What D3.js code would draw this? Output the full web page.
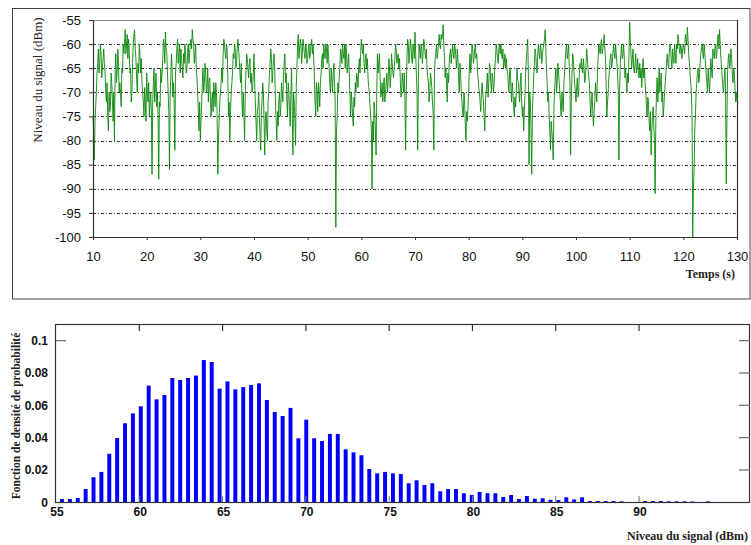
<!DOCTYPE html>
<html><head><meta charset="utf-8">
<script src="https://cdn.jsdelivr.net/npm/d3@7"></script>
<style>body{margin:0;background:#fff}svg{display:block}</style>
</head><body>
<script>
// ---- Top chart: signal level vs time ----
// main samples every 0.25 s from 10 s to 130 s
const timeStart = 10, timeStep = 0.25;
const signalLevel = [
-75,-84,-73,-66, -61,-64,-62,-65, -61,-66,-72,-75, -70,-73,-68,-76, -80,-62,-66,-64,
-68,-73,-66,-62, -57,-60,-63,-61, -65,-70,-60,-57, -63,-70,-66,-62, -63,-70,-75,-72,
-66,-72,-75,-70, -87,-68,-72,-66, -70,-88,-73,-68, -63,-60,-57.5,-62, -70,-86,-67,-65,
-68,-82,-64,-59, -62,-66,-63,-67, -64,-62,-65,-60, -62,-59,-57,-60, -62,-65,-70,-78,
-80,-72,-65,-68, -66,-69,-72,-67, -75,-70,-68,-73, -70,-87,-76,-70, -65,-62,-60,-63,
-61,-75,-80,-70, -66,-63,-61,-64, -59,-63,-68,-72, -70,-80,-66,-63, -67,-63,-66,-69,
-62,-72,-80,-73, -75,-82,-72,-70, -83,-74,-80,-70, -64,-63,-66,-62, -72,-80,-77,-70,
-73,-70,-66,-62, -66,-75,-70,-77, -65,-83,-72,-81, -65,-58,-61,-60, -62,-60,-63,-61,
-63,-60,-62,-59, -60,-67,-75,-70, -68,-73,-66,-62, -60,-63,-61,-60, -65,-70,-67,-66,
-68,-98,-75,-70, -65,-62,-60,-63, -65,-62,-64,-66, -75,-72,-77,-73, -70,-67,-65,-66,
-59,-62,-64,-63, -65,-67,-70,-75, -90,-80,-74,-83, -62,-64,-67,-70, -72,-67,-70,-66,
-68,-65,-67,-64, -67,-63,-61,-63, -65,-67,-70,-68, -66,-82,-63,-60, -62,-60,-64,-61,
-57.5,-66,-82,-60, -63,-61,-62,-60, -63,-65,-68,-70, -67,-72,-82,-63, -60,-62,-58,-61,
-59,-56,-63,-65, -72,-68,-62,-64, -60,-63,-61,-65, -63,-70,-66,-72, -75,-72,-80,-76,
-70,-62,-64,-61, -63,-60,-62,-67, -70,-74,-68,-72, -78,-70,-66,-68, -65,-70,-67,-68,
-63,-61,-64,-60, -60,-63,-65,-62, -63,-66,-70,-65, -72,-70,-75,-73, -65,-68,-72,-66,
-75,-78,-70,-63, -59,-85,-72,-87, -70,-64,-62,-66, -60,-63,-61,-62, -60,-57,-65,-72,
-75,-82,-78,-84, -70,-65,-68,-66, -70,-75,-72,-68, -63,-60,-62,-65, -83,-66,-63,-68,
-72,-67,-70,-64, -63,-66,-65,-67, -61,-65,-68,-75, -70,-77,-72,-70, -66,-60,-62,-59,
-61,-58,-63,-75, -70,-65,-62,-64, -60,-63,-62,-66, -84,-64,-60,-62, -63,-65,-70,-68,
-55.5,-62,-63,-65, -64,-66,-63,-67, -67,-69,-63,-65, -70,-75,-72,-78, -83,-75,-77,-91,
-70,-72,-65,-68, -72,-75,-70,-66, -62,-65,-60,-63, -61,-64,-62,-60, -58,-61,-60,-63,
-60,-62,-59,-56.5, -62,-66,-70,-100, -86,-75,-68,-65, -67,-62,-60,-63, -62,-66,-70,-68,
-67,-65,-61,-63, -60,-62,-58,-57, -63,-67,-70,-65, -89,-66,-62,-64, -63,-68,-66,-72,
-72
];
// intermediate readings, one 0.125 s after each main sample
const signalLevelMid = [
-78,-76,-70,-64, -66,-60,-67,-63, -64,-70,-68,-78, -74,-66,-72,-70, -66,-68,-61,-70,
-70,-65,-60,-60, -62,-58,-59,-66, -72,-64,-58,-61, -67,-64,-60,-66, -68,-72,-69,-76,
-70,-68,-72,-74, -72,-65,-69,-73, -75,-72,-65,-66, -59,-64,-61,-66, -74,-70,-62,-71,
-72,-66,-61,-64, -60,-61,-65,-62, -60,-66,-62,-64, -60,-61,-59,-64, -60,-67,-74,-72,
-76,-68,-70,-64, -70,-65,-68,-71, -72,-74,-70,-68, -74,-80,-72,-68, -68,-59,-62,-60,
-67,-72,-74,-68, -62,-60,-65,-61, -61,-66,-64,-75, -75,-70,-62,-65, -64,-68,-70,-66,
-68,-76,-74,-70, -79,-74,-68,-76, -76,-78,-72,-66, -61,-68,-63,-66, -76,-74,-72,-75,
-68,-72,-64,-68, -72,-68,-74,-70, -74,-70,-76,-69, -60,-63,-59,-64, -59,-62,-60,-64,
-61,-63,-60,-62, -63,-72,-68,-74, -70,-68,-63,-65, -62,-60,-64,-62, -68,-65,-70,-64,
-72,-78,-68,-67, -61,-64,-62,-60, -60,-66,-62,-70, -70,-75,-71,-68, -66,-69,-63,-62,
-61,-60,-66,-62, -63,-69,-73,-78, -76,-72,-78,-70, -66,-62,-71,-68, -69,-72,-68,-70,
-63,-69,-62,-66, -65,-60,-64,-62, -63,-71,-66,-70, -72,-70,-59,-64, -59,-63,-60,-63,
-62,-70,-68,-61, -60,-64,-59,-62, -61,-67,-72,-66, -69,-74,-66,-62, -63,-60,-60,-58,
-58,-60,-67,-68, -66,-64,-61,-62, -62,-60,-63,-61, -67,-64,-70,-74, -70,-77,-74,-73,
-65,-66,-60,-64, -61,-63,-65,-69, -72,-70,-70,-75, -72,-68,-71,-64, -68,-66,-70,-65,
-60,-63,-61,-62, -62,-61,-64,-65, -65,-68,-66,-69, -68,-73,-71,-70, -67,-70,-68,-72,
-73,-74,-66,-61, -66,-70,-78,-74, -67,-61,-65,-62, -62,-60,-64,-61, -59,-61,-68,-70,
-78,-76,-80,-74, -67,-70,-64,-68, -73,-70,-74,-66, -61,-63,-60,-68, -72,-62,-66,-70,
-69,-71,-66,-65, -65,-63,-68,-64, -63,-67,-72,-72, -74,-74,-68,-72, -63,-61,-60,-62,
-60,-61,-69,-72, -67,-63,-65,-62, -62,-60,-64,-70, -70,-62,-63,-60, -67,-68,-66,-62,
-59,-65,-61,-66, -62,-65,-66,-64, -65,-66,-67,-68, -73,-71,-76,-74, -78,-73,-80,-76,
-67,-69,-70,-66, -70,-73,-68,-64, -64,-62,-61,-65, -63,-60,-64,-61, -59,-62,-61,-61,
-61,-58,-60,-59, -64,-68,-75,-90, -78,-70,-66,-68, -64,-61,-62,-60, -64,-68,-65,-70,
-63,-67,-62,-61, -63,-59,-61,-60, -65,-69,-67,-70, -75,-63,-65,-61, -66,-65,-69,-70
];
const timeTicks = [10,20,30,40,50,60,70,80,90,100,110,120,130];
const levelTicks = [-55,-60,-65,-70,-75,-80,-85,-90,-95,-100];
const gridLevels = [-60,-65,-70,-75,-80,-85,-90,-95];

// ---- Bottom chart: probability density ----
const binFirstCenter = 55.36, binWidth = 0.473;
const density = [
0.002,0.002,0.0027,0.0082,0.0155,0.0188,0.030,0.0398,0.0489,0.055,
0.0594,0.0722,0.0637,0.0664,0.0769,0.0757,0.0769,0.0784,0.088,0.0868,
0.0703,0.0748,0.0699,0.0713,0.0726,0.0736,0.0633,0.0559,0.0534,0.0584,
0.0396,0.0511,0.0396,0.0379,0.0423,0.0423,0.0328,0.0309,0.0291,0.0206,
0.0179,0.0188,0.0179,0.0175,0.0118,0.0136,0.0107,0.0118,0.0068,0.0082,
0.0082,0.0056,0.0045,0.0064,0.0056,0.0056,0.0033,0.0045,0.002,0.0039,
0.0022,0.0025,0.0016,0.0014,0.0031,0.0018,0.0031,0.0008,0.0008,0.0008,
0.0008,0.0006,0,0,0.0008,0.0008,0.0008,0.0006,0.0006,0.0006,
0.0005,0,0.0006
];
const levelAxisTicks = [55,60,65,70,75,80,85,90];
const densityTicks = [0,0.02,0.04,0.06,0.08,0.1];
const densityTickLabels = ["0","0.02","0.04","0.06","0.08","0.1"];

// merge main + intermediate readings into one time series
const series = [];
signalLevel.forEach((v, i) => {
  series.push({ t: timeStart + i * timeStep, v: v });
  if (i < signalLevelMid.length) series.push({ t: timeStart + i * timeStep + timeStep / 2, v: signalLevelMid[i] });
});

const W = 751, H = 545;
const svg = d3.select("body").append("svg").attr("width", W).attr("height", H);
svg.append("rect").attr("width", W).attr("height", H).attr("fill", "#fff");

const sans = "'Liberation Sans', Arial, sans-serif";
const serif = "'Liberation Serif', 'Times New Roman', serif";

// ===== TOP =====
svg.append("rect").attr("x", 12.5).attr("y", 8.5).attr("width", 737.5).attr("height", 290.5)
  .attr("fill", "none").attr("stroke", "#444").attr("stroke-width", 1);

const xT = d3.scaleLinear().domain([10, 130]).range([93, 737]);
const yT = d3.scaleLinear().domain([-100, -55]).range([237, 20]);

const gT = svg.append("g");
gT.selectAll("line.grid").data(gridLevels).join("line")
  .attr("x1", xT(10)).attr("x2", xT(130))
  .attr("y1", d => Math.round(yT(d)) + 0.5).attr("y2", d => Math.round(yT(d)) + 0.5)
  .attr("stroke", "#333").attr("stroke-width", 1).attr("stroke-dasharray", "3,2,1,2");

gT.append("line").attr("x1", xT(10)).attr("x2", xT(130)).attr("y1", 20.5).attr("y2", 20.5)
  .attr("stroke", "#888").attr("stroke-width", 1);
gT.append("line").attr("x1", 737.5).attr("x2", 737.5).attr("y1", 20).attr("y2", 237)
  .attr("stroke", "#333").attr("stroke-width", 1.2);

const line = d3.line().x(d => xT(d.t)).y(d => yT(d.v));
gT.append("path").datum(series).attr("d", line)
  .attr("fill", "none").attr("stroke", "#0a870a").attr("stroke-width", 0.9).attr("stroke-linejoin", "bevel");

const axL = gT.append("g").attr("transform", "translate(93,0)")
  .call(d3.axisLeft(yT).tickValues(levelTicks).tickSize(4).tickPadding(8).tickFormat(d => d));
const axB = gT.append("g").attr("transform", "translate(0,237)")
  .call(d3.axisBottom(xT).tickValues(timeTicks).tickSize(3).tickPadding(12));
[axL, axB].forEach(a => {
  a.select(".domain").attr("stroke", "#333").attr("stroke-width", 1.2);
  a.selectAll(".tick line").attr("stroke", "#333");
  a.selectAll("text").attr("font-family", sans).attr("font-size", 13).attr("fill", "#111");
});

svg.append("text").attr("transform", "translate(42,80) rotate(-90)")
  .attr("text-anchor", "middle").attr("font-family", serif).attr("font-size", 13)
  .attr("fill", "#222").text("Niveau du signal (dBm)");
svg.append("text").attr("x", 735).attr("y", 278).attr("text-anchor", "end")
  .attr("font-family", serif).attr("font-size", 12).attr("font-weight", "bold")
  .attr("fill", "#222").text("Temps (s)");

// ===== BOTTOM =====
const xB = d3.scaleLinear().domain([55, 96.66]).range([56, 750]);
const yB = d3.scaleLinear().domain([0, 0.11]).range([502.3, 324.5]);
const gB = svg.append("g");

const barW = xB(55 + binWidth * 0.5) - xB(55);
gB.selectAll("rect.bar").data(density).join("rect")
  .attr("x", (d, i) => xB(binFirstCenter + i * binWidth) - barW / 2)
  .attr("width", barW)
  .attr("y", d => yB(d))
  .attr("height", d => yB(0) - yB(d))
  .attr("fill", "#0000ff");

gB.append("rect").attr("x", 55.5).attr("y", 324.5).attr("width", 694).attr("height", 178)
  .attr("fill", "none").attr("stroke", "#333").attr("stroke-width", 1.2);

const innerTicks = levelAxisTicks.filter(d => d > 55);
gB.selectAll("line.tt").data(innerTicks).join("line")
  .attr("x1", d => xB(d)).attr("x2", d => xB(d)).attr("y1", 324.5).attr("y2", 331)
  .attr("stroke", "#333").attr("stroke-width", 1.2);
gB.selectAll("line.bt").data(innerTicks).join("line")
  .attr("x1", d => xB(d)).attr("x2", d => xB(d)).attr("y1", 502).attr("y2", 496)
  .attr("stroke", "#777").attr("stroke-width", 1);
gB.selectAll("line.rt").data(densityTicks.filter(d => d > 0)).join("line")
  .attr("x1", 739).attr("x2", 750).attr("y1", d => yB(d)).attr("y2", d => yB(d))
  .attr("stroke", "#777").attr("stroke-width", 1.3);
gB.append("line").attr("x1", 56).attr("x2", 66).attr("y1", yB(0.1)).attr("y2", yB(0.1))
  .attr("stroke", "#777").attr("stroke-width", 1.3);

gB.selectAll("text.yl").data(densityTicks).join("text")
  .attr("x", 48).attr("y", d => yB(d)).attr("dy", "0.35em").attr("text-anchor", "end")
  .attr("font-family", sans).attr("font-size", 12).attr("font-weight", "bold").attr("fill", "#111")
  .text((d, i) => densityTickLabels[i]);
gB.selectAll("text.xl").data(levelAxisTicks).join("text")
  .attr("x", d => xB(d) + 1).attr("y", 512).attr("dy", "0.35em").attr("text-anchor", "middle")
  .attr("font-family", sans).attr("font-size", 12).attr("font-weight", "bold").attr("fill", "#111")
  .text(d => d);

svg.append("text").attr("transform", "translate(20,416) rotate(-90)")
  .attr("text-anchor", "middle").attr("font-family", serif).attr("font-size", 11.5)
  .attr("font-weight", "bold").attr("fill", "#222").text("Fonction de densité de probabilité");
svg.append("text").attr("x", 748).attr("y", 540).attr("text-anchor", "end")
  .attr("font-family", serif).attr("font-size", 12).attr("font-weight", "bold")
  .attr("fill", "#222").text("Niveau du signal (dBm)");
</script>
</body></html>
